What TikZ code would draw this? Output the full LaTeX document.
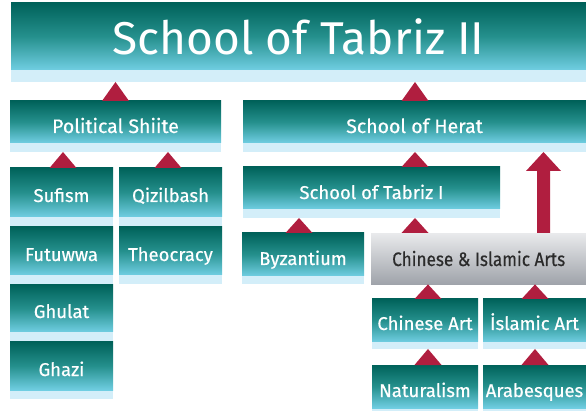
\documentclass[tikz,border=0pt]{standalone}
\usepackage{fontspec}
\setmainfont{Fira Sans}
\newfontfamily\lblfont{Fira Sans}[FakeBold=0.5]
\usetikzlibrary{calc}
\definecolor{tealdark}{HTML}{00625A}
\definecolor{tealmid}{HTML}{25908D}
\definecolor{teallight}{HTML}{70CEE2}
\definecolor{stripcol}{HTML}{D3EEF9}
\definecolor{crim}{HTML}{B01E3F}
\definecolor{graytop}{HTML}{E9EAEC}
\definecolor{graybot}{HTML}{9FA3AA}
\definecolor{graytext}{HTML}{2B2B2B}
\tikzset{
  boxbase/.style={rectangle, inner sep=0pt, outer sep=0pt, fill=stripcol},
  gradfill/.style={top color=tealdark, bottom color=teallight, middle color=tealmid},
  lbl/.style={inner sep=0pt, outer sep=0pt, text=white},
  tri/.style={fill=crim},
}
% name, x1, x2, ytop, ygradend, ybottom, ybaseline, text, font
\newcommand\tbox[9]{%
  \node[boxbase, minimum width={#3pt-#2pt}, minimum height={#6pt-#4pt}, anchor=north west] (#1) at (#2,#4) {};
  \shade[gradfill] (#1.north west) rectangle ([yshift={#4pt-#5pt}]#1.north east);
  \node[lbl, anchor=base, font=#9] (#1-t) at ([yshift={#4pt-#7pt}]#1.north) {#8};
}
% child, parent, center x
\newcommand\conn[3]{%
  \fill[tri] let \p1=(#1.north), \p2=(#2.south) in
    ({#3pt-13.5pt},\y1) -- ({#3pt},\y2) -- ({#3pt+13.5pt},\y1) -- cycle;
}
\newcommand\lf{\lblfont\fontsize{18.5}{22}\selectfont}
\newcommand\lfb{\lblfont\fontsize{19.5}{22}\selectfont}
\begin{document}
\begin{tikzpicture}[x=1pt,y=-1pt]
\useasboundingbox (0,0) rectangle (586,411);
\tbox{title}{11}{586}{3}{70}{82}{55}{School of Tabriz II}{\fontsize{46}{50}\selectfont}
\tbox{pol}{10}{221}{101}{143}{152}{133}{Political Shiite}{\lfb}
\tbox{herat}{243}{586}{101}{143}{152}{133}{School of Herat}{\lfb}
\tbox{sufism}{10}{113}{168}{217}{226}{202}{Sufism}{\lf}
\tbox{qizil}{119}{222}{168}{217}{226}{202}{Qizilbash}{\lf}
\tbox{futu}{10}{113}{227}{275}{284}{261}{Futuwwa}{\lf}
\tbox{theo}{119}{222}{227}{275}{284}{261}{Theocracy}{\lf}
\tbox{ghulat}{10}{113}{285}{332}{341}{318}{Ghulat}{\lf}
\tbox{ghazi}{10}{113}{342}{390}{399}{376}{Ghazi}{\lf}
\tbox{tabriz}{243}{500}{167}{209}{218}{199}{School of Tabriz I}{\lf}
\tbox{byz}{242}{364}{233}{276}{284}{265}{Byzantium}{\lf}
\node[rectangle, inner sep=0pt, minimum width=215pt, minimum height=51pt, anchor=north west,
      top color=graytop, bottom color=graybot] (cia) at (371,233) {};
\node[inner sep=0pt, anchor=base, text=graytext, font=\lfb] (cia-t)
      at ([yshift=-33pt]cia.north) {\scalebox{0.88}[1]{Chinese \& Islamic Arts}};
\tbox{chart}{372}{478}{299}{342}{349}{330}{Chinese Art}{\lf}
\tbox{isart}{483}{586}{299}{342}{349}{330}{İslamic Art}{\lf}
\tbox{nat}{372}{478}{365}{408}{417}{397}{Naturalism}{\lf}
\tbox{arab}{483}{586}{365}{408}{417}{397}{Arabesques}{\lf}
% connectors
\conn{pol}{title}{115.5}
\conn{herat}{title}{415}
\conn{sufism}{pol}{63}
\conn{qizil}{pol}{168}
\conn{tabriz}{herat}{415}
\conn{byz}{tabriz}{299}
\conn{cia}{tabriz}{415}
\conn{chart}{cia}{428}
\conn{isart}{cia}{535}
\conn{nat}{chart}{428}
\conn{arab}{isart}{535}
% big arrow
\fill[tri] let \p1=(cia.north), \p2=(herat.south) in
  (537pt,\y1) -- (537pt,{\y2-19pt}) -- (526pt,{\y2-19pt}) -- (543.5pt,\y2)
  -- (561pt,{\y2-19pt}) -- (550pt,{\y2-19pt}) -- (550pt,\y1) -- cycle;
\end{tikzpicture}
\end{document}
